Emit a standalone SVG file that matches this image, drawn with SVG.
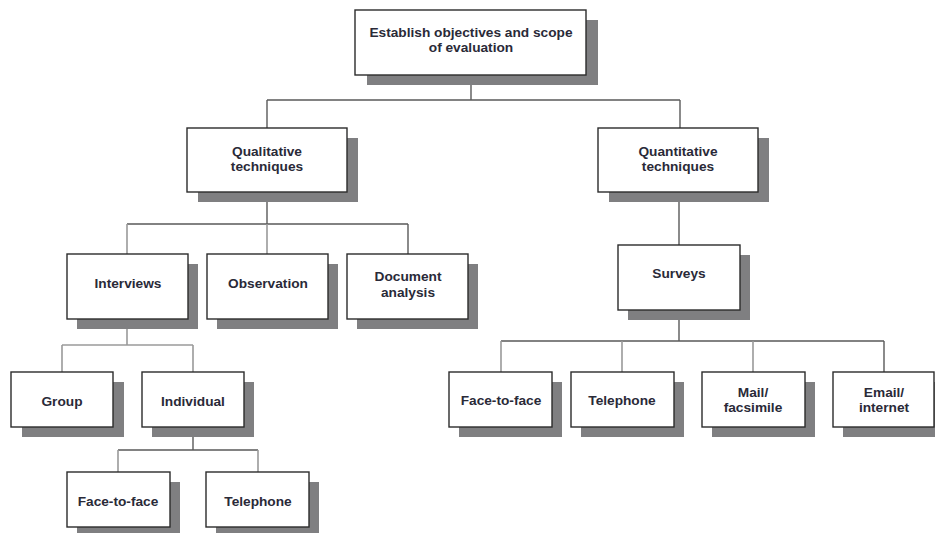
<svg xmlns="http://www.w3.org/2000/svg" width="935" height="533" viewBox="0 0 935 533">
<style>
.sh{fill:#7f7f81}
.bx{fill:#fff;stroke:#2b2b2b;stroke-width:1.4}
.t{font-family:"Liberation Sans",Arial,sans-serif;font-weight:bold;font-size:13.7px;fill:#2a2a38;text-anchor:middle}
.c{fill:none;stroke:#5a5a5a;stroke-width:1.4}
.cl{fill:none;stroke:#9a9a9a;stroke-width:1.6}
</style>
<rect width="935" height="533" fill="#fff"/>
<g id="connectors">
<path class="c" d="M471 75V100M267 100H680M267 100V128M680 100V128"/>
<path class="c" d="M267 192V224M127 224H408M408 224V254"/>
<path class="cl" d="M127 224V254M267 224V254"/>
<path class="c" d="M679 192V245M679 310V341M501 341H884M884 341V372"/>
<path class="cl" d="M501 341V372M622 341V372M753 341V372"/>
<path class="cl" d="M127 319V345M62 345H193M62 345V372M193 345V372"/>
<path class="c" d="M193 427V450M118 450H258"/>
<path class="cl" d="M118 450V472M258 450V472"/>
</g>
<g id="n-top"><rect class="sh" x="367" y="20" width="231" height="65"/><rect class="bx" x="355" y="10" width="231" height="65"/><text class="t" x="471" y="37">Establish objectives and scope</text><text class="t" x="471" y="52">of evaluation</text></g>
<g id="n-qual"><rect class="sh" x="198" y="138" width="160" height="64"/><rect class="bx" x="187" y="128" width="160" height="64"/><text class="t" x="267" y="156">Qualitative</text><text class="t" x="267" y="171">techniques</text></g>
<g id="n-quant"><rect class="sh" x="609" y="138" width="160" height="64"/><rect class="bx" x="598" y="128" width="160" height="64"/><text class="t" x="678" y="156">Quantitative</text><text class="t" x="678" y="171">techniques</text></g>
<g id="n-interviews"><rect class="sh" x="77" y="264" width="121" height="65"/><rect class="bx" x="67" y="254" width="121" height="65"/><text class="t" x="128" y="288">Interviews</text></g>
<g id="n-observation"><rect class="sh" x="217" y="264" width="121" height="65"/><rect class="bx" x="207" y="254" width="121" height="65"/><text class="t" x="268" y="288">Observation</text></g>
<g id="n-document"><rect class="sh" x="357" y="264" width="121" height="65"/><rect class="bx" x="347" y="254" width="121" height="65"/><text class="t" x="408" y="281">Document</text><text class="t" x="408" y="297">analysis</text></g>
<g id="n-surveys"><rect class="sh" x="628" y="255" width="122" height="65"/><rect class="bx" x="618" y="245" width="122" height="65"/><text class="t" x="679" y="278">Surveys</text></g>
<g id="n-group"><rect class="sh" x="22" y="382" width="102" height="55"/><rect class="bx" x="11" y="372" width="102" height="55"/><text class="t" x="62" y="406">Group</text></g>
<g id="n-individual"><rect class="sh" x="152" y="382" width="102" height="55"/><rect class="bx" x="142" y="372" width="102" height="55"/><text class="t" x="193" y="406">Individual</text></g>
<g id="n-i-face"><rect class="sh" x="77" y="482" width="103" height="55"/><rect class="bx" x="67" y="472" width="103" height="55"/><text class="t" x="118" y="506">Face-to-face</text></g>
<g id="n-i-tel"><rect class="sh" x="216" y="482" width="103" height="55"/><rect class="bx" x="206" y="472" width="103" height="55"/><text class="t" x="258" y="506">Telephone</text></g>
<g id="n-s-face"><rect class="sh" x="459" y="382" width="103" height="55"/><rect class="bx" x="449" y="372" width="103" height="55"/><text class="t" x="501" y="405">Face-to-face</text></g>
<g id="n-s-tel"><rect class="sh" x="581" y="382" width="103" height="55"/><rect class="bx" x="571" y="372" width="103" height="55"/><text class="t" x="622" y="405">Telephone</text></g>
<g id="n-s-mail"><rect class="sh" x="712" y="382" width="103" height="55"/><rect class="bx" x="702" y="372" width="103" height="55"/><text class="t" x="753" y="397">Mail/</text><text class="t" x="753" y="412">facsimile</text></g>
<g id="n-s-email"><rect class="sh" x="843" y="382" width="103" height="55"/><rect class="bx" x="833" y="372" width="101" height="55"/><text class="t" x="884" y="397">Email/</text><text class="t" x="884" y="412">internet</text></g>
</svg>
